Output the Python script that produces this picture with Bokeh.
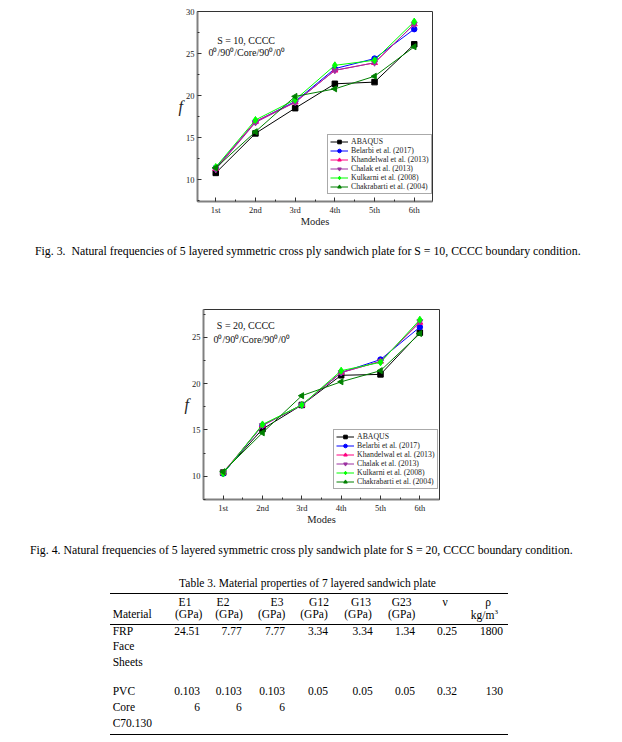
from bokeh.plotting import figure
from bokeh.models import Range1d, FixedTicker, Legend, LegendItem, Label, Div, Spacer
from bokeh.layouts import column, row
from bokeh.embed import file_html
from bokeh.resources import INLINE
import math

# ---------------- data ----------------
modes = ["1st", "2nd", "3rd", "4th", "5th", "6th"]
mode_index = [1, 2, 3, 4, 5, 6]

series_names = ["ABAQUS", "Belarbi et al. (2017)", "Khandelwal et al. (2013)",
                "Chalak et al. (2013)", "Kulkarni et al. (2008)", "Chakrabarti et al. (2004)"]

# Fig. 3  S = 10
s10_abaqus = [10.8, 15.5, 18.5, 21.4, 21.6, 26.1]
s10_belarbi = [11.4, 16.9, 19.3, 23.2, 24.4, 27.9]
s10_khandelwal = [11.3, 16.9, 19.2, 23.0, 23.9, 28.5]
s10_chalak = [11.2, 16.8, 19.2, 23.0, 23.9, 28.5]
s10_kulkarni = [11.5, 17.1, 19.5, 23.6, 24.2, 28.8]
s10_chakrabarti = [11.4, 15.7, 19.9, 20.8, 22.3, 25.8]

# Fig. 4  S = 20
s20_abaqus = [10.4, 15.1, 17.7, 20.9, 21.0, 25.5]
s20_belarbi = [10.3, 15.5, 17.7, 21.2, 22.6, 26.1]
s20_khandelwal = [10.4, 15.5, 17.7, 21.2, 22.4, 26.6]
s20_chalak = [10.4, 15.5, 17.7, 21.2, 22.4, 26.7]
s20_kulkarni = [10.3, 15.6, 17.7, 21.4, 22.3, 26.9]
s20_chakrabarti = [10.5, 14.7, 18.7, 20.2, 21.4, 25.4]

y_ticks = [10, 15, 20, 25, 30]
y_minor = [7.5, 12.5, 17.5, 22.5, 27.5]

caption3 = "Fig. 3.&nbsp; Natural frequencies of 5 layered symmetric cross ply sandwich plate for S = 10, CCCC boundary condition."
caption4 = "Fig. 4. Natural frequencies of 5 layered symmetric cross ply sandwich plate for S = 20, CCCC boundary condition."

table_title = "Table 3. Material properties of 7 layered sandwich plate"
header_top = ["E1", "E2", "E3", "G12", "G13", "G23", "\u03bd", "\u03c1"]
header_bottom = ["(GPa)", "(GPa)", "(GPa)", "(GPa)", "(GPa)", "(GPa)", "", "kg/m<sup style='font-size:7px'>3</sup>"]
material_col_title = "Material"
frp_name = ["FRP", "Face", "Sheets"]
frp_values = ["24.51", "7.77", "7.77", "3.34", "3.34", "1.34", "0.25", "1800"]
pvc_name = ["PVC", "Core", "C70.130"]
pvc_values = ["0.103", "0.103", "0.103", "0.05", "0.05", "0.05", "0.32", "130"]
pvc_values_wrap = ["6", "6", "6", "", "", "", "", ""]

# ---------------- style ----------------
FONT = "Liberation Serif"
colors = ["#000000", "#0000FF", "#FF0080", "#9B30A0", "#00FF00", "#008000"]
markers = ["square", "circle", "triangle", "inverted_triangle", "diamond", "triangle"]
angles = [0, 0, 0, 0, 0, math.pi / 2]
msizes = [5.5, 5.5, 6, 6, 7, 6]
PAGE_W = 614
X0 = 8  # horizontal offset of the page content


def make_chart(series, xlim, ylim, left, fw, top, fh, bottom, total_w, notes, legend_loc):
    right = total_w - left - fw
    p = figure(frame_width=fw, frame_height=fh, x_range=Range1d(*xlim), y_range=Range1d(*ylim),
               output_backend="svg", toolbar_location=None,
               min_border_left=left, min_border_right=right,
               min_border_top=top, min_border_bottom=bottom,
               x_axis_label="Modes", y_axis_label="f")
    p.background_fill_color = "white"
    p.border_fill_color = "white"
    p.outline_line_color = "#333333"
    p.outline_line_width = 1
    p.xgrid.visible = False
    p.ygrid.visible = False

    xt = FixedTicker(ticks=mode_index, minor_ticks=[0.5 + i for i in range(7)])
    yt = FixedTicker(ticks=y_ticks, minor_ticks=y_minor)

    for ax, tk in ((p.xaxis[0], xt), (p.yaxis[0], yt)):
        ax.ticker = tk
        ax.axis_line_color = "#808080"
        ax.axis_line_width = 2
        ax.major_tick_in = 4
        ax.major_tick_out = 0
        ax.minor_tick_in = 2
        ax.minor_tick_out = 0
        ax.major_tick_line_color = "#333333"
        ax.minor_tick_line_color = "#333333"
        ax.major_label_text_font = FONT
        ax.major_label_text_font_size = "8.5px"
        ax.major_label_text_color = "#222222"
        ax.major_label_standoff = 3
        ax.axis_label_text_font = FONT
        ax.axis_label_text_color = "#222222"
        ax.axis_label_text_font_style = "normal"
    p.xaxis[0].major_label_overrides = {i: m for i, m in zip(mode_index, modes)}
    p.xaxis[0].axis_label_text_font_size = "10.5px"
    p.xaxis[0].axis_label_standoff = -2
    p.yaxis[0].axis_label_text_font_size = "16px"
    p.yaxis[0].axis_label_text_font_style = "italic"
    p.yaxis[0].axis_label_standoff = 0
    p.yaxis[0].axis_label_orientation = "horizontal"
    p.yaxis[0].axis_label_text_baseline = "bottom"

    items = []
    for name, ys, c, m, a, s in zip(series_names, series, colors, markers, angles, msizes):
        lr = p.line(mode_index, ys, line_color=c, line_width=1)
        sr = p.scatter(mode_index, ys, marker=m, angle=a, size=s, fill_color=c, line_color=c)
        items.append(LegendItem(label=name, renderers=[lr, sr]))

    legend = Legend(items=items, location=legend_loc, label_text_font=FONT,
                    label_text_font_size="7.8px", label_text_color="#222222",
                    glyph_width=18, glyph_height=9, label_height=9, label_standoff=3,
                    spacing=0, padding=2, margin=0,
                    border_line_color="#555555", border_line_width=1,
                    background_fill_color="white", background_fill_alpha=1)
    p.add_layout(legend)

    for (tx, ty, txt) in notes:
        p.add_layout(Label(x=tx, y=ty, text=txt, text_font=FONT, text_font_size="10px",
                           text_color="#111111", text_baseline="middle", text_align="left"))
    return p


fig3 = make_chart([s10_abaqus, s10_belarbi, s10_khandelwal, s10_chalak, s10_kulkarni, s10_chakrabarti],
                  (0.54, 6.46), (7.4, 30), 189 + X0, 235, 11, 190, 30, PAGE_W,
                  [(1.035, 26.59, "S = 10, CCCC"), (0.816, 25.09, "0\u2070/90\u2070/Core/90\u2070/0\u2070")],
                  (130, 7))

fig4 = make_chart([s20_abaqus, s20_belarbi, s20_khandelwal, s20_chalak, s20_kulkarni, s20_chakrabarti],
                  (0.5, 6.5), (7.5, 28), 189 + X0, 236, 8, 190, 31, PAGE_W - 6,
                  [(0.84, 26.32, "S = 20, CCCC"), (0.754, 24.78, "0\u2070/90\u2070/Core/90\u2070/0\u2070")],
                  (130, 10))


# ---------------- text blocks (captions, table) ----------------
def span(x, y, txt, align="left", W=PAGE_W):
    x = x + X0
    base = "position:absolute;white-space:nowrap;line-height:1;"
    if align == "left":
        pos = f"left:{x}px;top:{y}px;transform:translateY(-50%);"
    elif align == "right":
        pos = f"right:{W - x}px;top:{y}px;transform:translateY(-50%);"
    else:
        pos = f"left:{x}px;top:{y}px;transform:translate(-50%,-50%);"
    return f'<span style="{base}{pos}">{txt}</span>'


def rule(y, x0, x1, w=1):
    return (f'<div style="position:absolute;left:{x0 + X0}px;top:{y}px;width:{x1 - x0}px;'
            f'height:0;border-top:{w}px solid #000;"></div>')


def block(h, parts):
    inner = "".join(parts)
    html = (f'<div style="position:relative;width:{PAGE_W}px;height:{h}px;overflow:hidden;'
            f'font-family:\'{FONT}\';font-size:11.5px;color:#000;">{inner}</div>')
    return Div(text=html, width=PAGE_W, height=h, margin=0)


CAP = '<span style="font-size:11.8px">{}</span>'

cap1 = block(70, [span(27, 21, CAP.format(caption3))])

h1_x = [177, 215, 269, 311, 353, 393.7, 437, 480]
h2_x = [180.7, 221, 263.7, 306, 350, 393.7, 437]
val_right = [192, 233.7, 277, 320, 364.7, 407, 449, 495]

dy = 1
parts = [span(22, 21, CAP.format(caption4)), span(299.5, 53 + dy, table_title, "center"),
         rule(61.5 + dy, 102, 500), rule(92.5 + dy, 102, 500), rule(202.5 + dy, 102, 500)]
parts += [span(x, 72 + dy, t, "center") for x, t in zip(h1_x, header_top)]
parts += [span(x, 84 + dy, t, "center") for x, t in zip(h2_x, header_bottom[:7]) if t]
parts += [span(490, 84 + dy, header_bottom[7], "right"), span(104.7, 84 + dy, material_col_title)]
parts += [span(104.7, y + dy, t) for y, t in zip([101, 116, 131.7], frp_name)]
parts += [span(x, 101 + dy, t, "right") for x, t in zip(val_right, frp_values)]
parts += [span(104.7, y + dy, t) for y, t in zip([161, 176.7, 192.7], pvc_name)]
parts += [span(x, 161 + dy, t, "right") for x, t in zip(val_right, pvc_values)]
parts += [span(x, 176.7 + dy, t, "right") for x, t in zip(val_right, pvc_values_wrap) if t]
tab = block(206, parts)

layout = column(fig3, cap1, row(Spacer(width=6, height=229), fig4, spacing=0), tab, spacing=0)

open("out.html", "w").write(file_html(layout, INLINE))
